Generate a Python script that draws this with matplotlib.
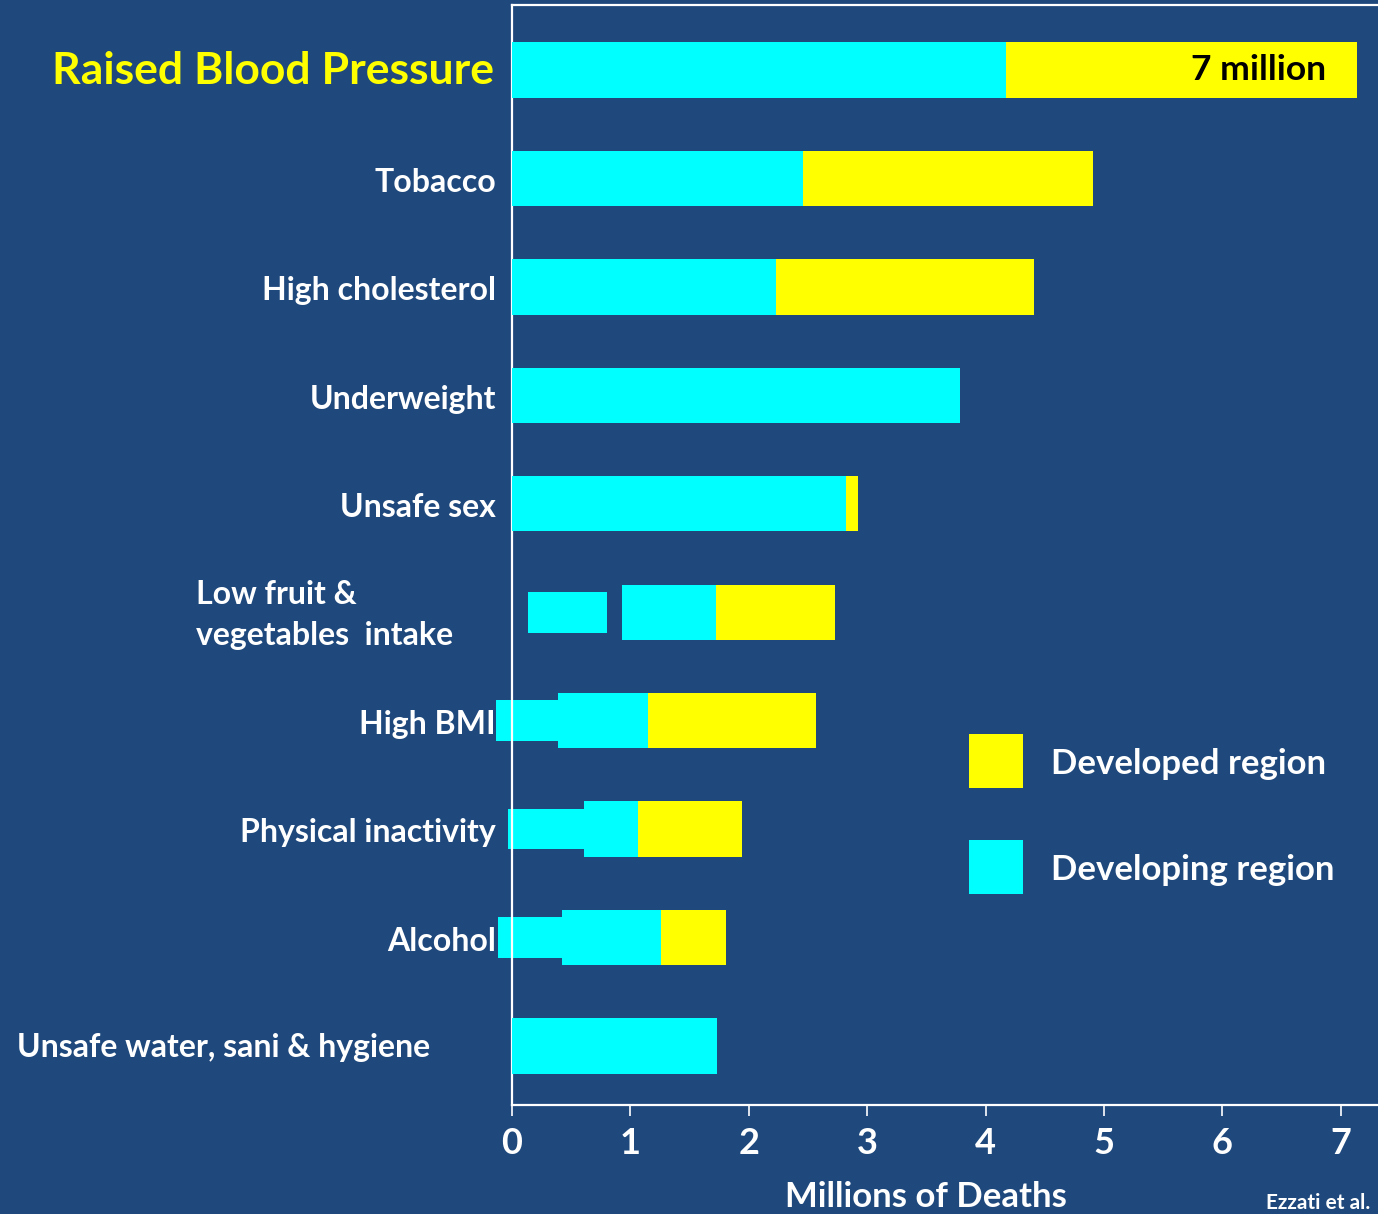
import matplotlib
matplotlib.use("Agg")
import matplotlib.pyplot as plt
from matplotlib.patches import Rectangle
from matplotlib.transforms import blended_transform_factory

# ---- data ----
categories = ["Raised Blood Pressure", "Tobacco", "High cholesterol", "Underweight",
              "Unsafe sex", "Low fruit &\nvegetables  intake", "High BMI",
              "Physical inactivity", "Alcohol", "Unsafe water, sani & hygiene"]
developing_start = [0, 0, 0, 0, 0, 0.93, 0.39, 0.61, 0.42, 0]
developing = [4.17, 2.46, 2.23, 3.78, 2.82, 0.79, 0.76, 0.45, 0.84, 1.73]
developed = [2.97, 2.45, 2.18, 0.0, 0.10, 1.01, 1.42, 0.88, 0.55, 0.0]
# extra (thinner) developing-region boxes present in the original slide
extra_index = [5, 6, 7, 8]
extra_start = [0.135, -0.135, -0.03, -0.12]
extra_end = [0.80, 0.39, 0.61, 0.42]
xticks = [0, 1, 2, 3, 4, 5, 6, 7]
legend_labels = ["Developed region", "Developing region"]

BG = "#1F497D"
CYAN = "#00FFFF"
YELLOW = "#FFFF00"
FONT = ["Lato", "DejaVu Sans"]

W, H = 1378, 1214
fig = plt.figure(figsize=(W / 100, H / 100), dpi=100, facecolor=BG)
ax = fig.add_axes([512 / W, 1 - 1105 / H, 1 - 512 / W, (1105 - 5) / H])
ax.set_facecolor(BG)

y = list(range(len(categories)))
ax.barh(y, developing, left=developing_start, height=0.51, color=CYAN,
        linewidth=0, zorder=3)
dev_left = [s + d for s, d in zip(developing_start, developing)]
ax.barh(y, developed, left=dev_left, height=0.51, color=YELLOW,
        linewidth=0, zorder=3)
for i, s, e in zip(extra_index, extra_start, extra_end):
    ax.barh(i, e - s, left=s, height=0.375, color=CYAN,
            linewidth=0, zorder=2, clip_on=False)

ax.set_xlim(0, (W - 512) / 118.4)
ax.set_ylim(9 + (1105 - 1046) / 108.4, -(70 - 5) / 108.4)

for sp in ["left", "bottom", "top"]:
    ax.spines[sp].set_color("white")
    ax.spines[sp].set_linewidth(1.6)
ax.spines["right"].set_visible(False)
ax.set_yticks([])
ax.set_xticks(xticks)
ax.set_xticklabels([str(t) for t in xticks], fontsize=26, fontweight="bold",
                   color="white", family=FONT)
ax.tick_params(axis="x", colors="white", length=8, width=1.2, pad=8)

# category labels
dy = 0.035
tr = blended_transform_factory(fig.transFigure, ax.transData)
for i, cat in enumerate(categories):
    if i == 0:
        ax.text(494 / W, i + 0.01, cat, transform=tr, ha="right", va="center",
                fontsize=32, fontweight="bold", color=YELLOW, family=FONT)
    elif i == 5:
        ax.text(196 / W, i + 0.03, cat, transform=tr, ha="left", va="center",
                fontsize=23, fontweight="bold", color="white", family=FONT,
                linespacing=1.5)
    elif i == 9:
        ax.text(430 / W, i + 0.01, cat, transform=tr, ha="right", va="center",
                fontsize=23, fontweight="bold", color="white", family=FONT)
    else:
        ax.text(496 / W, i + dy, cat, transform=tr, ha="right", va="center",
                fontsize=23, fontweight="bold", color="white", family=FONT)

# total annotation
ax.text(1326 / W, 0, "7 million", transform=tr, ha="right", va="center",
        fontsize=25.5, fontweight="bold", color="black", family=FONT, zorder=5)

# legend
for (y0, col, lab) in [(734, YELLOW, legend_labels[0]), (840, CYAN, legend_labels[1])]:
    fig.patches.append(Rectangle((969 / W, 1 - (y0 + 54) / H), 54 / W, 54 / H,
                                 transform=fig.transFigure, facecolor=col,
                                 edgecolor="none"))
    fig.text(1051 / W, 1 - (y0 + 30) / H, lab, ha="left", va="center",
             fontsize=25, fontweight="bold", color="white", family=FONT)

fig.text(926 / W, 1 - 1197 / H, "Millions of Deaths", ha="center", va="center",
         fontsize=25, fontweight="bold", color="white", family=FONT)
fig.text(1370 / W, 1 - 1203 / H, "Ezzati et al.", ha="right", va="center",
         fontsize=15, fontweight="bold", color="white", family=FONT)

fig.savefig("out.png", dpi=100, facecolor=BG)
